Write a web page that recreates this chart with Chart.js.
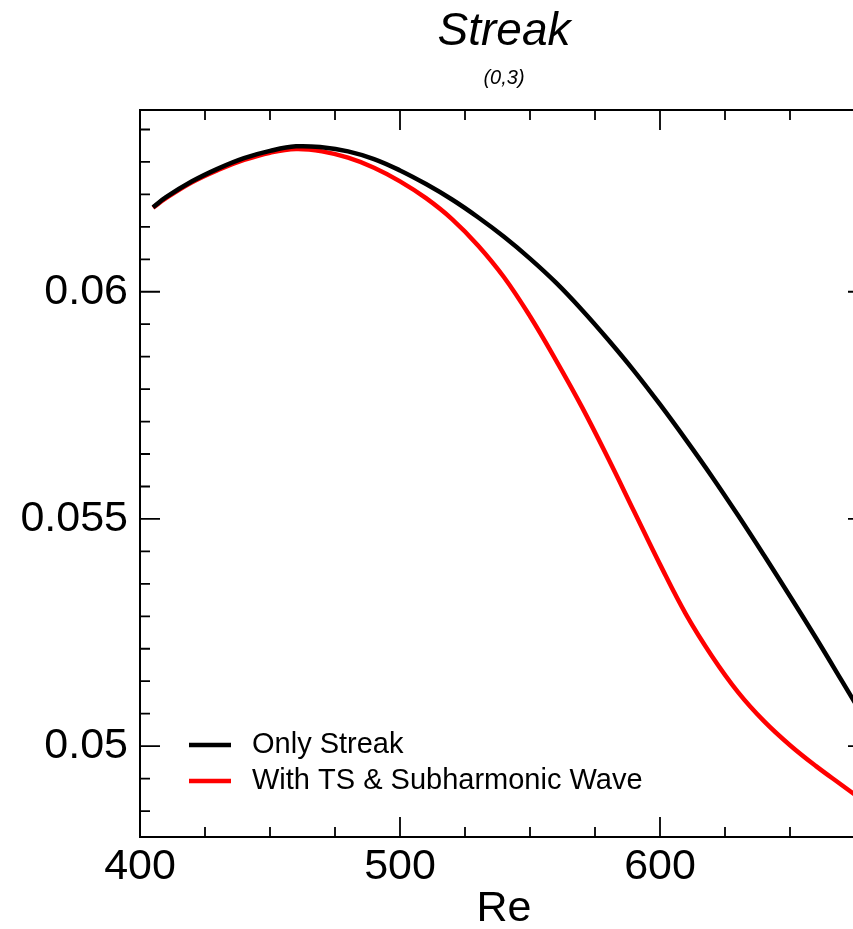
<!DOCTYPE html>
<html>
<head>
<meta charset="utf-8">
<script src="https://cdn.jsdelivr.net/npm/chart.js@4/dist/chart.umd.min.js"></script>
<style>
html, body { margin: 0; padding: 0; overflow: hidden; background: #fff; width: 853px; height: 929px; }
#wrap { position: absolute; left: 0; top: 0; width: 880px; height: 929px; }
</style>
</head>
<body>
<div id="wrap"><canvas id="c" width="880" height="929"></canvas></div>
<script>
// ---- data ----
const reValues   = [405, 410, 420, 430, 440, 450, 460, 470, 480, 490, 500, 510, 520, 530, 540, 550, 560, 570, 580, 590, 600, 610, 620, 630, 640, 650, 660, 670, 680];
const onlyStreak = [0.06186, 0.06208, 0.06243, 0.06271, 0.06294, 0.06310, 0.06320, 0.06318, 0.06309, 0.06292, 0.06267, 0.06237, 0.06203, 0.06164, 0.06121, 0.06073, 0.06020, 0.05960, 0.05895, 0.05826, 0.05752, 0.05674, 0.05593, 0.05508, 0.05420, 0.05330, 0.05238, 0.05143, 0.05047];
const withTS     = [0.06185, 0.06206, 0.06241, 0.06268, 0.06290, 0.06306, 0.06314, 0.06309, 0.06295, 0.06273, 0.06243, 0.06206, 0.06160, 0.06102, 0.06032, 0.05946, 0.05849, 0.05746, 0.05634, 0.05517, 0.05400, 0.05290, 0.05198, 0.05119, 0.05055, 0.05002, 0.04956, 0.04914, 0.04872];
const seriesLabels = ['Only Streak', 'With TS & Subharmonic Wave'];
const xMajorTicks = [400, 500, 600];
const xMinorTicks = [425, 450, 475, 525, 550, 575, 625, 650, 675];
const yMajorTicks = [0.05, 0.055, 0.06];
const yTickLabels = ['0.05', '0.055', '0.06'];
const yMinorTicks = [0.048571, 0.049286, 0.050714, 0.051429, 0.052143, 0.052857, 0.053571, 0.054286,
                     0.055714, 0.056429, 0.057143, 0.057857, 0.058571, 0.059286,
                     0.060714, 0.061429, 0.062143, 0.062857, 0.063571];
const xRange = [400, 680];
const yRange = [0.048, 0.064];

Chart.defaults.font.family = "'Liberation Sans', Arial, Helvetica, sans-serif";
Chart.defaults.color = '#000';

const framePlugin = {
  id: 'frameTicksLegend',
  afterDatasetsDraw(chart) {
    const { ctx, chartArea: a, scales: { x, y } } = chart;
    ctx.save();
    ctx.strokeStyle = '#000';
    ctx.lineWidth = 2;
    ctx.strokeRect(a.left, a.top, a.right - a.left, a.bottom - a.top);
    ctx.lineWidth = 1.8;
    ctx.beginPath();
    const vt = (v, len) => {
      const p = x.getPixelForValue(v);
      ctx.moveTo(p, a.bottom); ctx.lineTo(p, a.bottom - len);
      ctx.moveTo(p, a.top); ctx.lineTo(p, a.top + len);
    };
    const ht = (v, len) => {
      const p = y.getPixelForValue(v);
      ctx.moveTo(a.left, p); ctx.lineTo(a.left + len, p);
      ctx.moveTo(a.right, p); ctx.lineTo(a.right - len, p);
    };
    xMajorTicks.forEach(v => vt(v, 20));
    xMinorTicks.forEach(v => vt(v, 10));
    yMajorTicks.forEach(v => ht(v, 20));
    yMinorTicks.forEach(v => ht(v, 10));
    ctx.stroke();

    // legend inside the plot (bottom-left)
    ctx.font = "29px 'Liberation Sans', Arial, sans-serif";
    ctx.textBaseline = 'middle';
    ctx.textAlign = 'left';
    chart.data.datasets.forEach((ds, i) => {
      const ly = 745 + i * 36;
      ctx.strokeStyle = ds.borderColor;
      ctx.lineWidth = 4.5;
      ctx.beginPath();
      ctx.moveTo(189, ly); ctx.lineTo(231, ly);
      ctx.stroke();
      ctx.fillStyle = '#000';
      ctx.fillText(ds.label, 252, ly);
    });
    ctx.restore();
  }
};

const toPts = arr => reValues.map((r, i) => ({ x: r, y: arr[i] }));

new Chart(document.getElementById('c'), {
  type: 'line',
  data: {
    datasets: [
      { label: seriesLabels[0], data: toPts(onlyStreak), borderColor: '#000000', borderWidth: 4.5, pointRadius: 0, tension: 0.4, fill: false },
      { label: seriesLabels[1], data: toPts(withTS), borderColor: '#ff0000', borderWidth: 4.5, pointRadius: 0, tension: 0.4, fill: false }
    ]
  },
  options: {
    responsive: false,
    animation: false,
    devicePixelRatio: 1,
    layout: { padding: { left: 0, right: 12, top: 0, bottom: 0 } },
    plugins: {
      legend: { display: false },
      tooltip: { enabled: false },
      title: {
        display: true, text: 'Streak', fullSize: false, color: '#000',
        font: { size: 46, style: 'italic', weight: 'normal', lineHeight: 1.2 },
        padding: { top: 5, bottom: 0 }
      },
      subtitle: {
        display: true, text: '(0,3)', fullSize: false, color: '#000',
        font: { size: 20, style: 'italic', weight: 'normal', lineHeight: 1.2 },
        padding: { top: 6.5, bottom: 19.3 }
      }
    },
    scales: {
      x: {
        type: 'linear', min: xRange[0], max: xRange[1],
        grid: { display: false, drawTicks: false },
        border: { display: false },
        afterFit: s => { s.height = 92; },
        afterBuildTicks: s => { s.ticks = xMajorTicks.map(v => ({ value: v })); },
        ticks: { autoSkip: false, maxRotation: 0, padding: 4, color: '#000', font: { size: 43 }, callback: v => String(v) },
        title: { display: true, text: 'Re', color: '#000', font: { size: 43, lineHeight: 1 }, padding: { top: 0, bottom: -2 } }
      },
      y: {
        type: 'linear', min: yRange[0], max: yRange[1],
        grid: { display: false, drawTicks: false },
        border: { display: false },
        afterFit: s => { s.width = 140; },
        afterBuildTicks: s => { s.ticks = yMajorTicks.map(v => ({ value: v })); },
        ticks: { autoSkip: false, padding: 12, color: '#000', font: { size: 43 },
                 callback: v => yTickLabels[yMajorTicks.indexOf(v)] ?? '' }
      }
    }
  },
  plugins: [framePlugin]
});
</script>
</body>
</html>
